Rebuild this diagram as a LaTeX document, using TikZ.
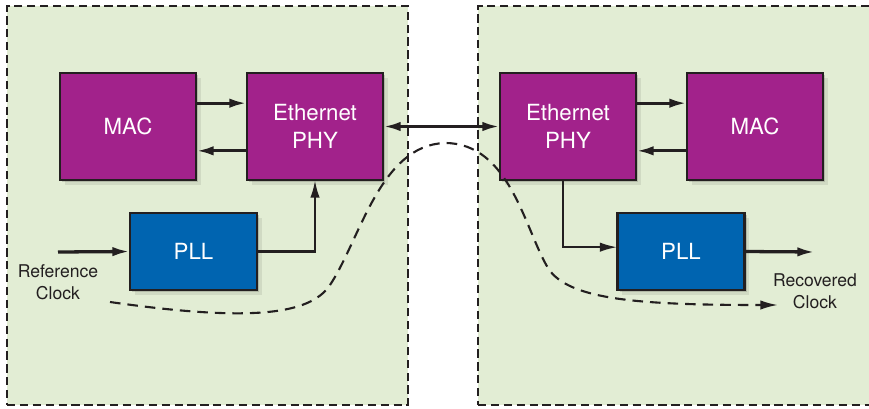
\documentclass[tikz,border=0pt]{standalone}
\usepackage{fontspec}
\setmainfont{TeX Gyre Heros}
\usetikzlibrary{arrows.meta,positioning,shadows}
\definecolor{synpurple}{HTML}{A2228B}
\definecolor{synblue}{HTML}{0064B0}
\definecolor{synpanel}{HTML}{E2EDD4}
\definecolor{syndark}{HTML}{231F20}
\tikzset{
  blk/.style={draw=syndark,line width=2.2pt,align=center,text=white,outer sep=0pt,inner sep=0pt,font=\fontsize{19}{24}\selectfont,minimum width=40.8mm,minimum height=32.1mm,
    drop shadow={shadow xshift=4pt,shadow yshift=-4pt,opacity=.08,fill=black},
    drop shadow={shadow xshift=2pt,shadow yshift=-2pt,opacity=.15,fill=black}},
  macphy/.style={blk,fill=synpurple},
  pll/.style={blk,fill=synblue,minimum width=38.1mm,minimum height=23.1mm},
  panel/.style={draw=syndark,fill=synpanel,line width=2pt,dash pattern=on 7pt off 4pt,inner sep=0pt,outer sep=0pt},
  ar/.style={-{Latex[length=15pt,width=8pt]},draw=syndark,line width=2.8pt},
  arthin/.style={ar,line width=2pt},
  clk/.style={ar,line width=1.8pt,dash pattern=on 9pt off 6pt},
  lbl/.style={text=syndark,font=\fontsize{15}{18.7}\selectfont,align=center},
}
\begin{document}
\begin{tikzpicture}[x=0.3mm,y=-0.3mm]
    \useasboundingbox (0,0) rectangle (869,409);
    \clip (0,0) rectangle (869,409);
    \node[panel,minimum width=120.3mm,minimum height=119.7mm] (sendside) at (207.5,205.5) {};
    \node[panel,minimum width=120.6mm,minimum height=119.7mm] (recvside) at (679,205.5) {};
    % sending end
    \node[macphy] (macL) at (128,126.5) {MAC};
    \node[macphy,right=15.3mm of macL] (phyL) {Ethernet\\PHY};
    \node[pll] (pllL) at (193.5,251.5) {PLL};
    \coordinate (refin) at (58,252);
    \node[lbl] (reflbl) at (58,282) {Reference\\Clock};
    % receiving end
    \node[macphy] (phyR) at (568,126.5) {Ethernet\\PHY};
    \node[macphy,right=15.3mm of phyR] (macR) {MAC};
    \node[pll] (pllR) at (681,251.5) {PLL};
    \coordinate (recout) at (815,252);
    \node[lbl] (reclbl) at (815,291) {Recovered\\Clock};
    \draw[ar] ([yshift=7mm]macL.east) -- ([yshift=7mm]phyL.west);
    \draw[ar] ([yshift=-7.3mm]phyL.west) -- ([yshift=-7.3mm]macL.east);
    \draw[ar] ([yshift=7mm]phyR.east) -- ([yshift=7mm]macR.west);
    \draw[ar] ([yshift=-7.3mm]macR.west) -- ([yshift=-7.3mm]phyR.east);
    \draw[ar,{Latex[length=15pt,width=8pt]}-{Latex[length=15pt,width=8pt]}] (phyL.east) -- (phyR.west);
    \draw[ar] (refin) -- (pllL.west);
    \draw[arthin] (pllL.east) -| (phyL.south);
    \draw[arthin] ([xshift=-1.5mm]phyR.south) |- ([yshift=1.3mm]pllR.west);
    \draw[ar] (pllR.east) -- (recout);
    % clock path
    \coordinate (clkstart) at (110,302);
    \coordinate (clkend) at (778,305);
    \draw[clk] (clkstart) .. controls (250,322) and (310,315) .. (330,285)
      .. controls (360,240) and (380,145) .. (445,143)
      .. controls (510,143) and (525,230) .. (548,268)
      .. controls (568,300) and (640,305) .. (clkend);
  \end{tikzpicture}
\end{document}
